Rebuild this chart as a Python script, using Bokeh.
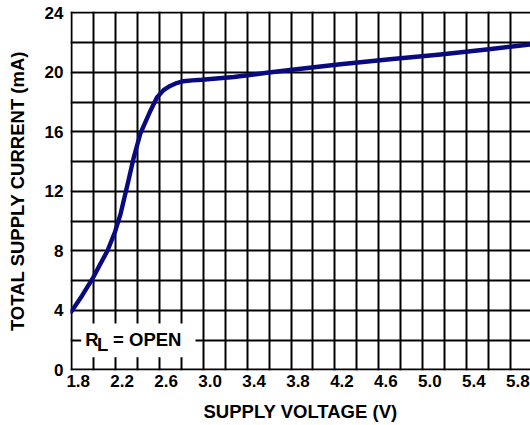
from bokeh.plotting import figure
from bokeh.models import Range1d, FixedTicker, BoxAnnotation, Label
from bokeh.embed import file_html
from bokeh.resources import INLINE

# ---- data ----
voltage = [1.80, 1.90, 2.00, 2.06, 2.13, 2.20, 2.25, 2.32, 2.37, 2.43, 2.52, 2.58,
           2.64, 2.70, 2.76, 2.82, 2.90, 2.99, 3.28, 3.58, 3.89, 4.25, 4.70, 5.16,
           5.60, 5.98]
current = [3.9, 5.0, 6.2, 7.05, 8.0, 9.3, 10.5, 12.7, 14.3, 15.9, 17.4, 18.3,
           18.8, 19.08, 19.28, 19.4, 19.46, 19.5, 19.68, 19.97, 20.24, 20.54, 20.88,
           21.2, 21.55, 21.87]

x_ticks = [1.8, 2.2, 2.6, 3.0, 3.4, 3.8, 4.2, 4.6, 5.0, 5.4, 5.8]
x_tick_labels = ["1.8", "2.2", "2.6", "3.0", "3.4", "3.8", "4.2", "4.6", "5.0", "5.4", "5.8"]
x_grid = [1.8, 2.0, 2.2, 2.4, 2.6, 2.8, 3.0, 3.2, 3.4, 3.6, 3.8, 4.0, 4.2, 4.4,
          4.6, 4.8, 5.0, 5.2, 5.4, 5.6, 5.8]
y_ticks = [0, 4, 8, 12, 16, 20, 24]
y_grid = [0, 2, 4, 6, 8, 10, 12, 14, 16, 18, 20, 22, 24]

FONT = "Liberation Sans"

W, H = 530, 425
LEFT, RIGHT, TOP, BOTTOM = 70, 0, 11, 55
X0, X1 = 1.7936, 5.979
Y0, Y1 = -0.047, 24.087
px_per_v = (W - LEFT - RIGHT) / (X1 - X0)
shift = 7.0 / px_per_v   # tick labels sit a little right of their grid lines

p = figure(width=W, height=H, output_backend="svg", toolbar_location=None,
           x_range=Range1d(X0, X1), y_range=Range1d(Y0, Y1),
           min_border_left=LEFT, min_border_right=RIGHT,
           min_border_top=TOP, min_border_bottom=BOTTOM)
p.outline_line_color = None
p.background_fill_color = "white"
p.border_fill_color = "white"
p.extra_x_ranges = {"lab": Range1d(X0 - shift, X1 - shift)}

# grids
p.xgrid.ticker = FixedTicker(ticks=x_grid)
p.ygrid.ticker = FixedTicker(ticks=y_grid)
for g in (p.xgrid, p.ygrid):
    g.grid_line_color = "black"
    g.grid_line_width = 2
    g.grid_line_alpha = 1.0

# y axis
p.yaxis.ticker = FixedTicker(ticks=y_ticks)
p.yaxis.axis_label = "TOTAL SUPPLY CURRENT (mA)"
p.yaxis.major_label_standoff = 7
p.yaxis.axis_label_standoff = 14

# x axis (on a slightly shifted range so labels sit right of grid lines)
p.xaxis.x_range_name = "lab"
p.xaxis.ticker = FixedTicker(ticks=x_ticks)
p.xaxis.major_label_overrides = {t: s for t, s in zip(x_ticks, x_tick_labels)}
p.xaxis.axis_label = "SUPPLY VOLTAGE (V)"
p.xaxis.major_label_standoff = 4
p.xaxis.axis_label_standoff = 11

for ax in (p.xaxis, p.yaxis):
    ax.axis_line_color = None
    ax.major_tick_line_color = None
    ax.minor_tick_line_color = None
    ax.major_tick_in = 0
    ax.major_tick_out = 0
    ax.major_label_text_font = FONT
    ax.major_label_text_font_style = "bold"
    ax.major_label_text_font_size = "17px"
    ax.major_label_text_color = "black"
    ax.axis_label_text_font = FONT
    ax.axis_label_text_font_style = "bold"
    ax.axis_label_text_font_size = "18.5px"
    ax.axis_label_text_color = "black"

# curve
p.line(voltage, current, line_color="#0a0a80", line_width=4.4,
       line_join="round", line_cap="round")

# R_L = OPEN label with white backing
p.add_layout(BoxAnnotation(left=1.891, right=2.931, bottom=0.847, top=3.11,
                           fill_color="white", fill_alpha=1.0, line_color=None))
for txt, x, y in (("R", 1.927, 2.017), ("L", 2.034, 1.70), ("= OPEN", 2.181, 2.017)):
    p.add_layout(Label(x=x, y=y, text=txt, text_font=FONT, text_font_style="bold",
                       text_font_size="18.5px", text_baseline="alphabetic",
                       text_align="left", text_color="black"))

open("out.html", "w").write(file_html(p, INLINE))
